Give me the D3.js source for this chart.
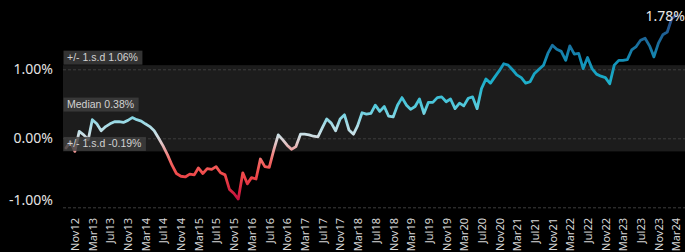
<!DOCTYPE html>
<html lang="en">
<head>
<meta charset="UTF-8">
<title>Rolling excess return</title>
<style>
  body { margin: 0; background: #000; }
  svg { display: block; }
  .y-axis text { font: 14px "Segoe UI", "Noto Sans", sans-serif; fill: #e4e4e4; }
  .y-axis line { stroke: #3e3e3e; stroke-dasharray: 3, 2; }
  .x-axis text { font: 11px "Segoe UI", "Noto Sans", sans-serif; fill: #d6d6d6; }
  .band-label rect { fill: rgba(62, 62, 62, 0.82); }
  .band-label text { font: 10.5px "Liberation Sans", Arial, sans-serif; fill: #d2d2d2; }
  .end-label { font: 14px "Segoe UI", "Noto Sans", sans-serif; fill: #e8e8e8; }
</style>
</head>
<body>
<div id="chart"></div>
<script src="https://cdn.jsdelivr.net/npm/d3@7"></script>
<script>
"use strict";

// monthly series, first point Sep 2012
const startMonth = "Sep12";
const values = [
  -0.14, -0.05, -0.19, 0.10,
  0.05, -0.02, 0.27, 0.21, 0.11, 0.17, 0.21, 0.24, 0.24, 0.23, 0.26, 0.30,
  0.27, 0.25, 0.21, 0.17, 0.11, 0.00, -0.11, -0.24, -0.39, -0.51, -0.55, -0.56,
  -0.52, -0.53, -0.43, -0.51, -0.44, -0.45, -0.41, -0.50, -0.53, -0.74, -0.80, -0.88,
  -0.50, -0.66, -0.57, -0.59, -0.30, -0.41, -0.42, -0.17, 0.05, -0.02, -0.10, -0.16,
  -0.12, 0.06, 0.06, 0.05, 0.03, 0.02, 0.15, 0.28, 0.22, 0.11, 0.28, 0.34,
  0.12, 0.06, 0.18, 0.37, 0.35, 0.36, 0.48, 0.39, 0.46, 0.32, 0.31, 0.48,
  0.59, 0.48, 0.42, 0.46, 0.57, 0.36, 0.52, 0.52, 0.59, 0.60, 0.53, 0.57,
  0.43, 0.51, 0.47, 0.58, 0.60, 0.43, 0.72, 0.86, 0.80, 0.89, 0.98, 1.08,
  1.06, 0.99, 0.92, 0.88, 0.80, 0.82, 0.94, 1.00, 1.06, 1.23, 1.35, 1.29,
  1.26, 1.13, 1.34, 1.22, 1.23, 1.01, 1.17, 1.01, 0.93, 0.90, 0.88, 0.79,
  1.06, 1.13, 1.13, 1.14, 1.28, 1.33, 1.42, 1.45, 1.34, 1.18, 1.38, 1.50,
  1.54, 1.74, 1.78
];

const tickLabels = ["Nov12", "Mar13", "Jul13", "Nov13", "Mar14", "Jul14", "Nov14", "Mar15",
  "Jul15", "Nov15", "Mar16", "Jul16", "Nov16", "Mar17", "Jul17", "Nov17", "Mar18", "Jul18",
  "Nov18", "Mar19", "Jul19", "Nov19", "Mar20", "Jul20", "Nov20", "Mar21", "Jul21", "Nov21",
  "Mar22", "Jul22", "Nov22", "Mar23", "Jul23", "Nov23", "Mar24"];
const yTicks = [-1, 0, 1];

const median = 0.38;
const sdUpper = 1.06;
const sdLower = -0.19;

const width = 685, height = 252;
const plotLeft = 63, plotRight = 685;

const parseMonth = d3.timeParse("%b%y");
const start = parseMonth(startMonth);
const data = values.map((v, i) => ({ date: d3.timeMonth.offset(start, i), value: v }));
const tickDates = tickLabels.map(parseMonth);

const x = d3.scaleTime()
    .domain([data[0].date, data[data.length - 1].date])
    .range([66, 676]);

const y = d3.scaleLinear()
    .domain([-1, 1])
    .range([207.3, 69.3]);

const svg = d3.select("#chart").append("svg")
    .attr("width", width)
    .attr("height", height);

svg.append("rect")
    .attr("width", width).attr("height", height)
    .attr("fill", "#000");

// +/- 1 s.d. band
svg.append("rect")
    .attr("x", plotLeft)
    .attr("y", y(sdUpper))
    .attr("width", plotRight - plotLeft)
    .attr("height", y(sdLower) - y(sdUpper))
    .attr("fill", "#1c1c1c");

// y axis + dashed grid
const yAxis = svg.append("g")
    .attr("class", "y-axis")
    .attr("transform", "translate(" + plotLeft + ",0)")
    .call(d3.axisLeft(y)
        .tickValues(yTicks)
        .tickSize(-(plotRight - plotLeft))
        .tickPadding(10)
        .tickFormat(d => d.toFixed(2) + "%"));
yAxis.select(".domain").remove();
yAxis.selectAll("text").filter(d => d === -1).attr("y", -7);

// x axis, rotated labels
const xAxis = svg.append("g")
    .attr("class", "x-axis")
    .attr("transform", "translate(0,212)")
    .call(d3.axisBottom(x)
        .tickValues(tickDates)
        .tickSize(0)
        .tickFormat(d3.timeFormat("%b%y")));
xAxis.select(".domain").remove();
xAxis.selectAll("text")
    .attr("transform", "rotate(-90)")
    .attr("text-anchor", "end")
    .attr("x", -6)
    .attr("y", 0)
    .attr("dy", "0.35em");

// colour the line by value
const vMin = d3.min(values), vMax = d3.max(values);
const colour = d3.scaleLinear()
    .domain([-0.88, -0.55, -0.3, -0.12, 0.0, 0.2, 0.45, 0.8, 1.1, 1.4, 1.78])
    .range(["#c4103e", "#f04646", "#f26a66", "#e8b4b4", "#d8e2e6", "#a6dce6",
            "#58cbdd", "#1cb2cc", "#1392b8", "#1a6a9a", "#2c4886"]);

const grad = svg.append("defs").append("linearGradient")
    .attr("id", "lineGrad")
    .attr("gradientUnits", "userSpaceOnUse")
    .attr("x1", 0).attr("x2", 0)
    .attr("y1", y(vMin)).attr("y2", y(vMax));
d3.range(0, 1.0001, 0.05).forEach(t => {
    grad.append("stop")
        .attr("offset", t)
        .attr("stop-color", colour(vMin + t * (vMax - vMin)));
});

const line = d3.line()
    .x(d => x(d.date))
    .y(d => y(d.value));

svg.append("path")
    .datum(data)
    .attr("d", line)
    .attr("fill", "none")
    .attr("stroke", "url(#lineGrad)")
    .attr("stroke-width", 2.8)
    .attr("stroke-linejoin", "round")
    .attr("stroke-linecap", "round");

// labels sitting on the reference lines
const refs = [
    { value: sdUpper, text: "+/- 1.s.d " + sdUpper.toFixed(2) + "%" },
    { value: median, text: "Median " + median.toFixed(2) + "%" },
    { value: sdLower, text: "+/- 1.s.d " + sdLower.toFixed(2) + "%" }
];
refs.forEach(r => {
    const g = svg.append("g").attr("class", "band-label");
    const rect = g.append("rect");
    const t = g.append("text")
        .attr("x", plotLeft + 4)
        .attr("y", y(r.value) - 4)
        .text(r.text);
    const w = t.node().getComputedTextLength();
    rect.attr("x", plotLeft + 0.5)
        .attr("y", y(r.value) - 14.5)
        .attr("width", w + 8)
        .attr("height", 14);
});

// end value
const last = data[data.length - 1];
svg.append("text")
    .attr("class", "end-label")
    .attr("x", x(last.date) + 9)
    .attr("y", y(last.value) + 6)
    .attr("text-anchor", "end")
    .text(last.value.toFixed(2) + "%");
</script>
</body>
</html>
